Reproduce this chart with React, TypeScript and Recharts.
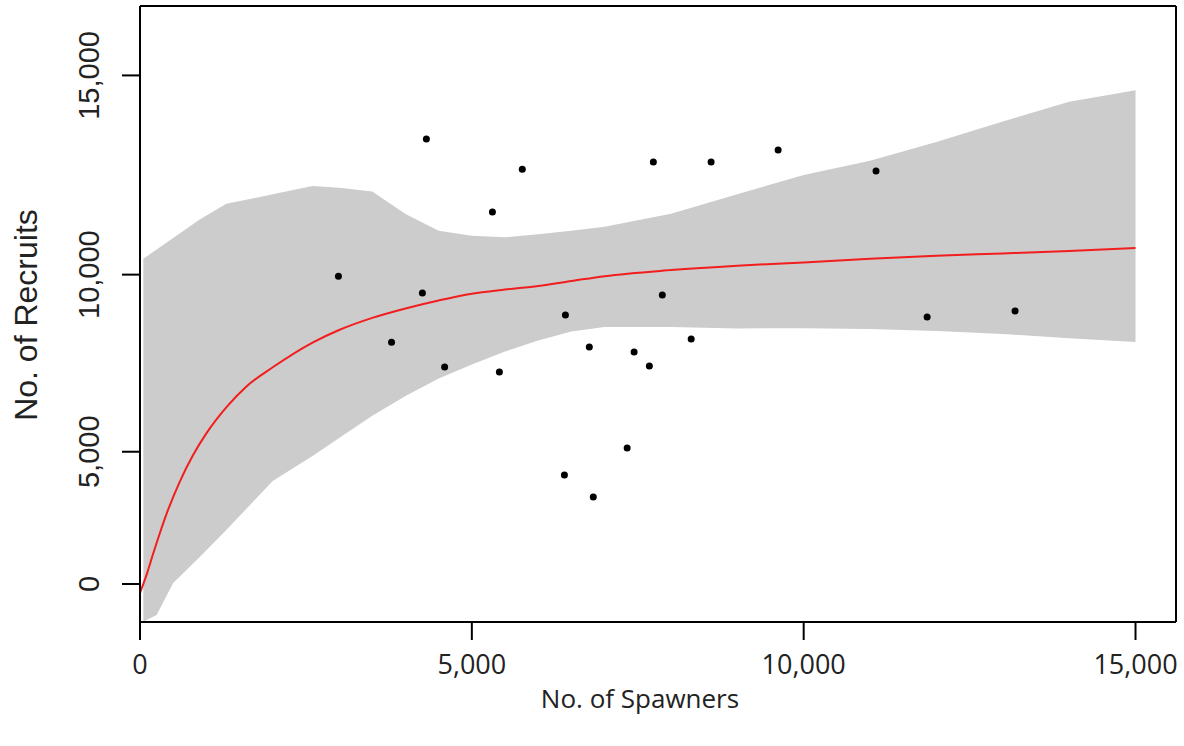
import { ComposedChart, Area, Line, Scatter, XAxis, YAxis, ReferenceLine, Label } from 'recharts'

// observed stock / recruit pairs
const spawners = [2990, 3790, 4255, 4315, 4590, 5310, 5415, 5760, 6395, 6410, 6770, 6830, 7340, 7445, 7675, 7870, 8305, 7735, 8605, 9615, 11090, 11860, 13185]
const recruits = [9960, 8180, 9510, 13450, 7490, 11620, 7345, 12700, 4270, 8920, 8045, 3550, 5115, 7905, 7515, 9460, 8265, 12880, 12880, 13180, 12655, 8865, 9030]

const fitS = [0, 100, 200, 300, 400, 600, 800, 1000, 1300, 1600, 2000, 2600, 3000, 3500, 4000, 4500, 5000, 5500, 6000, 6500, 7000, 8000, 9000, 10000, 11000, 12000, 13000, 14000, 15000]
const fitted = [-550, 580, 1520, 2300, 2980, 4060, 4900, 5560, 6330, 6930, 7480, 8170, 8515, 8845, 9100, 9315, 9495, 9605, 9700, 9830, 9960, 10120, 10235, 10320, 10415, 10495, 10555, 10620, 10695]

// interval around the fit
const bandS = [50, 250, 500, 900, 1300, 2000, 2600, 3000, 3500, 4000, 4500, 5000, 5500, 6000, 6500, 7000, 8000, 9000, 10000, 11000, 12000, 13000, 14000, 15000]
const lower = [-1800, -1530, 95, 1370, 2410, 4075, 4865, 5420, 6085, 6660, 7160, 7555, 7920, 8225, 8470, 8595, 8595, 8555, 8565, 8540, 8485, 8405, 8290, 8185]
const upper = [10420, 10655, 10955, 11430, 11830, 12070, 12280, 12235, 12140, 11570, 11145, 11015, 10975, 11050, 11145, 11245, 11575, 12075, 12560, 12915, 13375, 13880, 14365, 14645]

const xTicks = [0, 5000, 10000, 15000]
const yTicks = [0, 5000, 10000, 15000]

const fitData = fitS.map((s, i) => ({ s, fit: fitted[i] }))
const bandData = bandS.map((s, i) => ({ s, band: [lower[i], upper[i]] }))
const pointData = spawners.map((s, i) => ({ s, r: recruits[i] }))

const fmt = (v: number) => v.toLocaleString('en-US')

// the printed y axis is stretched towards the top, so use a power scale
function powerScale(exponent: number): any {
  let dom: number[] = [0, 1]
  let rng: number[] = [0, 1]
  const tf = (v: number) => Math.sign(v) * Math.pow(Math.abs(v), exponent)
  const itf = (t: number) => Math.sign(t) * Math.pow(Math.abs(t), 1 / exponent)
  const scale: any = (v: number) => {
    const t0 = tf(dom[0])
    const t1 = tf(dom[dom.length - 1])
    return rng[0] + ((tf(Number(v)) - t0) / (t1 - t0)) * (rng[rng.length - 1] - rng[0])
  }
  scale.domain = (d?: any[]) => {
    if (d === undefined) return dom.slice()
    dom = d.map(Number)
    return scale
  }
  scale.range = (r?: any[]) => {
    if (r === undefined) return rng.slice()
    rng = r.map(Number)
    return scale
  }
  scale.invert = (px: number) => {
    const t0 = tf(dom[0])
    const t1 = tf(dom[dom.length - 1])
    const f = (px - rng[0]) / (rng[rng.length - 1] - rng[0])
    return itf(t0 + f * (t1 - t0))
  }
  scale.ticks = () => yTicks
  scale.copy = () => powerScale(exponent).domain(dom).range(rng)
  return scale
}

const X_MAX = 15610
const Y_MIN = -1808
const Y_MAX = 16650

const XTick = (props: any) => {
  const { x, y, payload } = props
  return (
    <text x={x} y={y + 32} textAnchor="middle" fontFamily="'Open Sans', sans-serif" fontSize={27} fill="#222">
      {fmt(payload.value)}
    </text>
  )
}

const YTick = (props: any) => {
  const { x, y, payload } = props
  return (
    <text
      transform={`translate(${x - 21},${y}) rotate(-90)`}
      textAnchor="middle"
      fontFamily="'Liberation Sans', Arial, sans-serif"
      fontSize={29}
      fill="#222"
    >
      {fmt(payload.value)}
    </text>
  )
}

const XTitle = () => (
  <text x={640} y={708} textAnchor="middle" fontFamily="'Open Sans', sans-serif" fontSize={26} fill="#222">
    No. of Spawners
  </text>
)

const YTitle = () => (
  <text
    transform="translate(37,315) rotate(-90)"
    textAnchor="middle"
    fontFamily="'Liberation Sans', Arial, sans-serif"
    fontSize={32}
    fill="#222"
  >
    No. of Recruits
  </text>
)

export default function App() {
  return (
    <div style={{ position: 'absolute', left: 0, top: 0, background: '#fff' }}>
      <ComposedChart width={1184} height={746} margin={{ top: 6, right: 8, left: 0, bottom: 0 }}>
        <XAxis
          dataKey="s"
          type="number"
          domain={[0, X_MAX]}
          allowDataOverflow
          ticks={xTicks}
          tick={<XTick />}
          tickSize={18}
          height={124}
          axisLine={{ stroke: '#000', strokeWidth: 2 }}
          tickLine={{ stroke: '#000', strokeWidth: 2 }}
        >
          <Label content={<XTitle />} />
        </XAxis>
        <YAxis
          type="number"
          scale={powerScale(1.226)}
          domain={[Y_MIN, Y_MAX]}
          allowDataOverflow
          ticks={yTicks}
          tick={<YTick />}
          tickSize={18}
          width={140}
          axisLine={{ stroke: '#000', strokeWidth: 2 }}
          tickLine={{ stroke: '#000', strokeWidth: 2 }}
        >
          <Label content={<YTitle />} />
        </YAxis>
        <Area
          data={bandData}
          dataKey="band"
          type="linear"
          fill="#cccccc"
          fillOpacity={1}
          stroke="none"
          isAnimationActive={false}
        />
        <Line
          data={fitData}
          dataKey="fit"
          type="monotone"
          stroke="#f21d1d"
          strokeWidth={2}
          dot={false}
          isAnimationActive={false}
        />
        <Scatter
          data={pointData}
          dataKey="r"
          fill="#000"
          shape={(p: any) => <circle cx={p.cx} cy={p.cy} r={3.5} fill="#000" />}
          isAnimationActive={false}
        />
        <ReferenceLine y={Y_MAX} stroke="#000" strokeWidth={2} />
        <ReferenceLine x={X_MAX} stroke="#000" strokeWidth={2} />
      </ComposedChart>
    </div>
  )
}
